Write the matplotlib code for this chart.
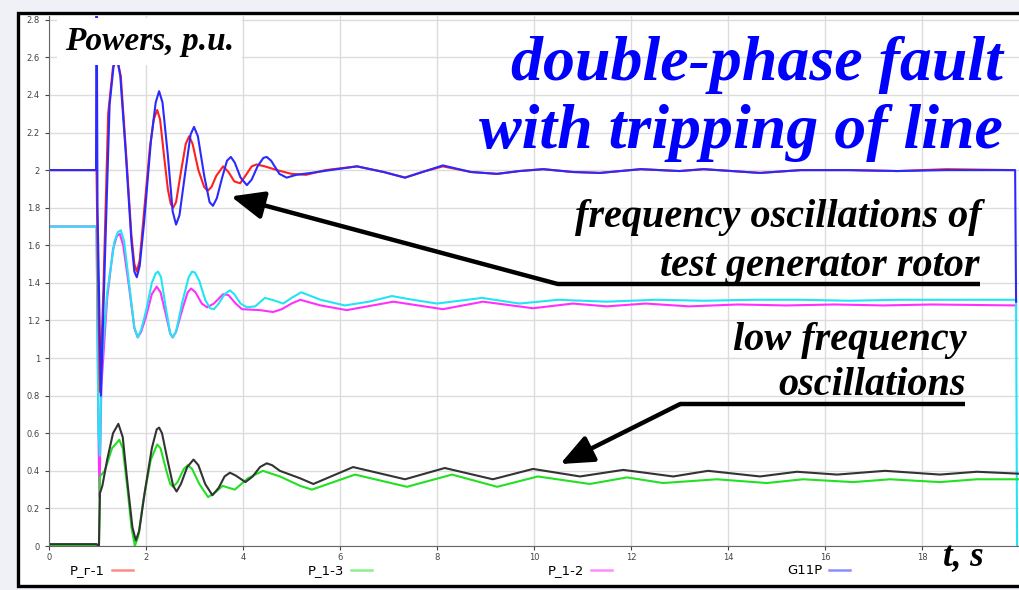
import matplotlib
matplotlib.use("Agg")
import matplotlib.pyplot as plt
from matplotlib.lines import Line2D
from matplotlib.patches import Rectangle

# time (s) / value (p.u.) pairs
t_red = [0, 0.98, 1.0, 1.05, 1.12, 1.22, 1.32, 1.40, 1.48, 1.60, 1.70, 1.76, 1.81, 1.87, 1.95, 2.08, 2.16,
         2.23, 2.29, 2.37, 2.45, 2.51, 2.56, 2.62, 2.72, 2.82, 2.89, 2.96, 3.08, 3.2, 3.27, 3.35, 3.45, 3.59,
         3.7, 3.82, 3.94, 4.05, 4.18, 4.28, 4.45, 4.7, 5.0, 5.3, 5.7, 6.35, 6.9, 7.34, 7.7, 8.12, 8.7, 9.24,
         9.7, 10.19, 10.8, 11.36, 12.2, 13.0, 13.5, 14.66, 15.5, 16.5, 17.5, 18.5, 19.9]
p_red = [2.00, 2.00, 1.6, 0.82, 1.35, 2.30, 2.55, 2.60, 2.50, 2.05, 1.65, 1.50, 1.46, 1.52, 1.75, 2.12, 2.27,
         2.32, 2.27, 2.08, 1.90, 1.82, 1.80, 1.83, 1.99, 2.14, 2.18, 2.14, 2.00, 1.91, 1.89, 1.91, 1.97, 2.02,
         1.99, 1.94, 1.93, 1.97, 2.02, 2.03, 2.02, 2.00, 1.98, 1.975, 2.00, 2.02, 1.99, 1.96, 1.99, 2.02, 1.99,
         1.98, 1.995, 2.005, 1.99, 1.985, 2.005, 1.995, 2.005, 1.985, 2.0, 2.0, 1.995, 2.005, 2.0]

t_blue = [0, 0.97, 0.98, 1.0, 1.07, 1.15, 1.25, 1.33, 1.40, 1.47, 1.58, 1.70, 1.76, 1.81, 1.87, 1.96, 2.1,
          2.2, 2.27, 2.34, 2.45, 2.55, 2.62, 2.69, 2.8, 2.92, 2.99, 3.07, 3.2, 3.31, 3.38, 3.46, 3.57, 3.67,
          3.75, 3.83, 3.95, 4.08, 4.18, 4.3, 4.42, 4.49, 4.58, 4.75, 4.9, 5.1, 5.4, 5.8, 6.35, 6.9, 7.34, 7.7,
          8.12, 8.7, 9.24, 9.7, 10.19, 10.8, 11.36, 12.2, 13.0, 13.5, 14.66, 15.5, 16.5, 17.5, 18.5, 19.92,
          19.94]
p_blue = [2.00, 2.00, 3.2, 1.8, 0.80, 1.5, 2.35, 2.55, 2.60, 2.50, 2.1, 1.62, 1.46, 1.43, 1.49, 1.72, 2.15,
          2.36, 2.42, 2.36, 2.08, 1.78, 1.71, 1.76, 1.97, 2.19, 2.23, 2.18, 1.97, 1.83, 1.81, 1.85, 1.96, 2.05,
          2.07, 2.04, 1.96, 1.92, 1.95, 2.02, 2.065, 2.07, 2.05, 1.98, 1.96, 1.975, 1.985, 2.00, 2.02, 1.99,
          1.96, 1.99, 2.025, 1.99, 1.98, 1.995, 2.005, 1.99, 1.985, 2.005, 1.995, 2.005, 1.985, 2.0, 2.0,
          1.995, 2.0, 2.0, 1.30]

t_cyan = [0, 0.98, 1.02, 1.05, 1.08, 1.2, 1.35, 1.42, 1.48, 1.55, 1.65, 1.76, 1.83, 1.90, 2.0, 2.12, 2.2,
          2.25, 2.31, 2.42, 2.5, 2.55, 2.62, 2.75, 2.88, 2.95, 3.01, 3.1, 3.22, 3.32, 3.4, 3.5, 3.62, 3.73,
          3.82, 3.95, 4.08, 4.25, 4.45, 4.6, 4.83, 5.0, 5.2, 5.4, 5.6, 6.1, 6.6, 7.07, 7.5, 8.0, 8.93, 9.7,
          10.5, 11.5, 12.5, 13.5, 14.5, 15.5, 16.5, 17.5, 18.5, 19.94, 19.96]
p_cyan = [1.70, 1.70, 0.6, 0.48, 0.95, 1.35, 1.62, 1.67, 1.68, 1.62, 1.40, 1.16, 1.11, 1.15, 1.25, 1.40, 1.45,
          1.46, 1.43, 1.25, 1.13, 1.11, 1.14, 1.30, 1.43, 1.46, 1.455, 1.41, 1.31, 1.265, 1.26, 1.29, 1.34,
          1.36, 1.34, 1.29, 1.27, 1.275, 1.32, 1.31, 1.29, 1.32, 1.35, 1.33, 1.31, 1.28, 1.30, 1.33, 1.31,
          1.29, 1.32, 1.29, 1.31, 1.30, 1.31, 1.305, 1.31, 1.31, 1.305, 1.31, 1.31, 1.31, 0.0]

t_mag = [0, 0.98, 1.02, 1.04, 1.08, 1.2, 1.32, 1.40, 1.46, 1.53, 1.65, 1.76, 1.83, 1.90, 2.0, 2.12, 2.22,
         2.30, 2.42, 2.5, 2.55, 2.62, 2.75, 2.86, 2.93, 3.02, 3.15, 3.26, 3.4, 3.59, 3.7, 3.85, 3.98, 4.35,
         4.62, 4.8, 5.0, 5.18, 5.6, 6.14, 7.1, 8.12, 8.95, 9.98, 10.8, 11.5, 12.3, 13.2, 14.2, 15.2, 16.2,
         17.2, 18.2, 19.94]
p_mag = [1.70, 1.70, 0.6, 0.26, 0.85, 1.32, 1.58, 1.65, 1.66, 1.60, 1.38, 1.16, 1.11, 1.14, 1.22, 1.34, 1.38,
         1.35, 1.22, 1.13, 1.11, 1.14, 1.26, 1.35, 1.37, 1.35, 1.29, 1.27, 1.29, 1.34, 1.335, 1.29, 1.26,
         1.255, 1.245, 1.26, 1.29, 1.31, 1.28, 1.255, 1.30, 1.26, 1.30, 1.265, 1.29, 1.275, 1.29, 1.275,
         1.285, 1.28, 1.285, 1.28, 1.285, 1.28]

t_black = [0, 0.98, 1.03, 1.05, 1.10, 1.2, 1.32, 1.43, 1.52, 1.62, 1.72, 1.79, 1.86, 1.97, 2.12, 2.22, 2.27,
           2.33, 2.45, 2.56, 2.63, 2.72, 2.85, 2.98, 3.08, 3.22, 3.37, 3.5, 3.62, 3.73, 3.85, 4.05, 4.2, 4.35,
           4.49, 4.6, 4.76, 5.18, 5.45, 6.27, 7.34, 8.16, 9.15, 9.98, 10.95, 11.84, 12.87, 13.59, 14.66,
           15.42, 16.25, 17.24, 18.37, 19.13, 19.98]
p_black = [0.01, 0.01, 0.0, 0.28, 0.32, 0.46, 0.60, 0.65, 0.58, 0.33, 0.10, 0.03, 0.08, 0.28, 0.52, 0.62, 0.63,
           0.60, 0.45, 0.32, 0.29, 0.33, 0.42, 0.46, 0.43, 0.33, 0.27, 0.31, 0.37, 0.39, 0.375, 0.34, 0.37,
           0.42, 0.44, 0.43, 0.40, 0.36, 0.33, 0.42, 0.355, 0.415, 0.355, 0.41, 0.37, 0.405, 0.37, 0.40, 0.37,
           0.395, 0.38, 0.40, 0.38, 0.395, 0.385]

t_green = [0, 1.03, 1.05, 1.15, 1.30, 1.45, 1.52, 1.62, 1.7, 1.77, 1.84, 1.95, 2.1, 2.23, 2.3, 2.42, 2.5,
           2.56, 2.65, 2.78, 2.86, 2.95, 3.1, 3.28, 3.45, 3.58, 3.7, 3.83, 4.1, 4.41, 4.76, 5.18, 5.42, 6.31,
           7.38, 8.31, 9.24, 10.08, 11.15, 11.92, 12.66, 13.77, 14.8, 15.55, 16.58, 17.34, 18.37, 19.13,
           19.98]
p_green = [0.0, 0.0, 0.37, 0.40, 0.52, 0.565, 0.52, 0.30, 0.10, 0.0, 0.05, 0.25, 0.46, 0.54, 0.52, 0.40, 0.33,
           0.315, 0.34, 0.41, 0.43, 0.41, 0.33, 0.26, 0.29, 0.32, 0.31, 0.30, 0.36, 0.40, 0.37, 0.32, 0.30,
           0.38, 0.315, 0.38, 0.315, 0.37, 0.33, 0.365, 0.335, 0.355, 0.335, 0.355, 0.34, 0.355, 0.34, 0.355,
           0.355]

legend_labels = ["P_г-1", "P_1-3", "P_1-2", "G11P"]
legend_colors = ["#ff8a8a", "#8cf08c", "#ff8cff", "#8c8cff"]

fig = plt.figure(figsize=(10.2, 5.9), dpi=100, facecolor="#f0f0f7")
fig.patches.append(Rectangle((18 / 1020, 4 / 590), 1.1, 573 / 590, transform=fig.transFigure,
                             facecolor="white", edgecolor="black", lw=2.4, zorder=-10))

ax = fig.add_axes([49 / 1020, 44 / 590, 970 / 1020, 530 / 590], zorder=2)
ax.set_facecolor("white")

ax.plot(t_mag, p_mag, color="#ff30ff", lw=1.5)
ax.plot(t_cyan, p_cyan, color="#22e4f2", lw=1.5)
ax.plot(t_green, p_green, color="#22e022", lw=1.5)
ax.plot(t_black, p_black, color="#333333", lw=1.5)
ax.plot(t_red, p_red, color="#ff2020", lw=1.5)
ax.plot(t_blue, p_blue, color="#2a2aff", lw=1.5)

ax.set_xlim(0, 20)
ax.set_ylim(0, 2.82)
ax.set_xticks(range(0, 20, 2))
ax.set_yticks([i * 0.2 for i in range(15)])
ax.set_yticklabels(["%g" % round(i * 0.2, 1) for i in range(15)])
ax.grid(True, color="#dcdcdc", lw=1)
ax.set_axisbelow(True)
for s in ["top", "right"]:
    ax.spines[s].set_visible(False)
for s in ["left", "bottom"]:
    ax.spines[s].set_color("#666666")
ax.tick_params(labelsize=6, colors="#444444", length=3)
ax.tick_params(axis="x", pad=2)

# annotation arrows
head = "-|>,head_length=2.0,head_width=0.85"
ax.plot([19.2, 10.49], [1.394, 1.394], color="black", lw=3.2, solid_capstyle="butt")
ax.annotate("", xy=(3.75, 1.86), xytext=(10.49, 1.394),
            arrowprops=dict(arrowstyle=head, lw=3.2, color="black", shrinkA=0, shrinkB=0))
ax.plot([18.89, 13.01], [0.755, 0.755], color="black", lw=3.2, solid_capstyle="butt")
ax.annotate("", xy=(10.54, 0.436), xytext=(13.01, 0.755),
            arrowprops=dict(arrowstyle=head, lw=3.2, color="black", shrinkA=0, shrinkB=0))

serif = dict(family="Liberation Serif", weight="bold", style="italic", zorder=5)
fig.text(65 / 1020, 1 - 50 / 590, "Powers, p.u.", fontsize=24, va="baseline", ha="left",
         bbox=dict(facecolor="white", edgecolor="none", pad=6), **serif)
fig.text(1003 / 1020, 1 - 80 / 590, "double-phase fault", fontsize=46, color="#0000ff",
         ha="right", va="baseline", **serif)
fig.text(1003 / 1020, 1 - 148 / 590, "with tripping of line", fontsize=46, color="#0000ff",
         ha="right", va="baseline", **serif)
fig.text(982 / 1020, 1 - 227 / 590, "frequency oscillations of", fontsize=29, ha="right",
         va="baseline", **serif)
fig.text(980 / 1020, 1 - 276 / 590, "test generator rotor", fontsize=29, ha="right", va="baseline", **serif)
fig.text(967 / 1020, 1 - 350 / 590, "low frequency", fontsize=29, ha="right", va="baseline", **serif)
fig.text(966 / 1020, 1 - 395 / 590, "oscillations", fontsize=29, ha="right", va="baseline", **serif)
fig.text(943 / 1020, 1 - 566 / 590, "t, s", fontsize=25, ha="left", va="baseline", **serif)

handles = [Line2D([], [], color=c, lw=1.8) for c in legend_colors]
ax.legend(handles, legend_labels, ncol=4, loc="center left",
          bbox_to_anchor=(0.0216, -0.047), frameon=False, markerfirst=False, columnspacing=13.3,
          handlelength=1.6, handletextpad=0.5, fontsize=9.5, borderaxespad=0, borderpad=0)

fig.savefig("out.png", dpi=100, facecolor=fig.get_facecolor())
